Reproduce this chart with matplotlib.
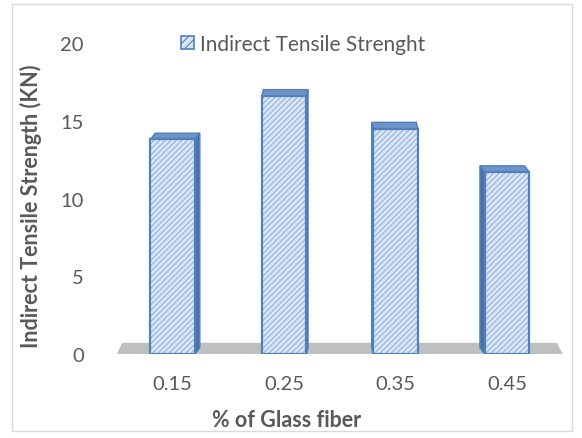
import numpy as np
import matplotlib
matplotlib.use("Agg")
import matplotlib.pyplot as plt
from matplotlib.patches import Polygon, Patch, Rectangle

# data
categories = ["0.15", "0.25", "0.35", "0.45"]
strength = [13.8, 16.6, 14.5, 11.7]
yticks = [0, 5, 10, 15, 20]

FRONT = "#dce6f2"
HATCH = "#8eb4e3"
EDGE = "#4f81bd"
TOP = "#6f93c8"
SIDE = "#4d71a8"
FLOOR = "#bfbfbf"
TXT = "#595959"

plt.rcParams["font.family"] = ["Lato", "DejaVu Sans"]
plt.rcParams["hatch.linewidth"] = 0.8

fig = plt.figure(figsize=(5.82, 4.39), dpi=100)
ax = fig.add_axes([0.201, 0.1913, 0.766, 0.7085])

x = np.arange(len(categories))
w = 0.40
depth = 0.40                      # depth of the 3D look, in data units of y
xmin, xmax = -0.5, len(categories) - 0.5
mid = (xmin + xmax) / 2

# floor
floor = Polygon([(xmin, 0.0), (xmax, 0.0), (xmax - 0.054, 0.72), (xmin + 0.045, 0.72)],
                closed=True, facecolor=FLOOR, edgecolor="none", zorder=1)
ax.add_patch(floor)

for xi, h in zip(x, strength):
    s = -(xi - mid) * 0.029       # perspective shift of the back edge
    l, r = xi - w / 2, xi + w / 2
    top = Polygon([(l, h), (r, h), (r + s, h + depth), (l + s, h + depth)],
                  closed=True, facecolor=TOP, edgecolor=EDGE, lw=1.0, zorder=3)
    ax.add_patch(top)
    ex = r if s > 0 else l
    side = Polygon([(ex, 0), (ex, h), (ex + s, h + depth), (ex + s, depth)],
                   closed=True, facecolor=SIDE, edgecolor=EDGE, lw=1.0, zorder=3)
    ax.add_patch(side)

ax.bar(x, strength, width=w, color=FRONT, edgecolor=HATCH, hatch="//////", linewidth=0, zorder=4)
ax.bar(x, strength, width=w, color="none", edgecolor=EDGE, linewidth=1.6, zorder=5)

ax.set_xlim(xmin, xmax)
ax.set_ylim(0, 20)
ax.set_yticks(yticks)
ax.set_xticks(x)
ax.set_xticklabels(categories)
ax.tick_params(length=0, labelsize=14.5, colors=TXT)
ax.tick_params(axis="y", pad=24)
ax.tick_params(axis="x", pad=15)
for sp in ax.spines.values():
    sp.set_visible(False)
ax.patch.set_alpha(0)

fig.text(31 / 582, 1 - 206 / 439, "Indirect Tensile Strength (KN)", rotation=90,
         ha="center", va="center", fontsize=15.5, fontweight="bold", color=TXT)
fig.text(287 / 582, 1 - 421 / 439, "% of Glass fiber", ha="center", va="center",
         fontsize=15.5, fontweight="bold", color=TXT)

handle = Patch(facecolor=FRONT, edgecolor=EDGE, hatch="////", linewidth=1.2)
fig.legend([handle], ["Indirect Tensile Strenght"], loc="center left",
           bbox_to_anchor=(171 / 582, 1 - 45 / 439), frameon=False,
           fontsize=15, labelcolor=TXT, handlelength=0.6, handleheight=0.6,
           handletextpad=0.3, borderpad=0)

# chart area border
fig.patches.append(Rectangle((12 / 582, 1 - 432 / 439), 560 / 582, 427 / 439,
                             transform=fig.transFigure, fill=False,
                             edgecolor="#d9d9d9", linewidth=1.0))

fig.savefig("out.png", dpi=100, facecolor="white")
